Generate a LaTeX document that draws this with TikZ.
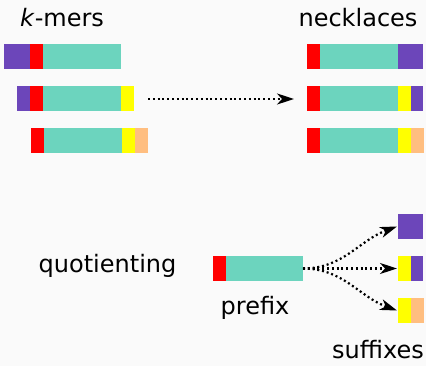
\documentclass[tikz,border=0pt]{standalone}
\usepackage{fontspec}
\setmainfont{DejaVu Sans}
\usetikzlibrary{arrows.meta}
\definecolor{cpurple}{RGB}{108,70,186}
\definecolor{cred}{RGB}{255,0,0}
\definecolor{cteal}{RGB}{108,212,190}
\definecolor{cyellow}{RGB}{255,255,0}
\definecolor{corange}{RGB}{255,190,128}
\definecolor{cbg}{RGB}{250,250,250}
\newcommand{\seg}[5]{\node[segbox, fill=#2, minimum width=#5pt] (#1) at (#3,#4) {};}
\tikzset{
  segbox/.style={rectangle, anchor=north west, inner sep=0pt, outer sep=0pt, minimum height=25pt},
  lbl/.style={font=\fontsize{24}{27}\selectfont, inner sep=0pt, anchor=base},
  dotline/.style={line width=2.2pt, dash pattern=on 2pt off 2.8pt, -{Stealth[length=17pt,width=11pt,inset=5pt]}}
}
\begin{document}
\begin{tikzpicture}[x=1pt,y=-1pt]
\fill[cbg] (0,0) rectangle (426,366);
\useasboundingbox (0,0) rectangle (426,366);
% labels
\node[lbl] (tk) at (62,27) {\textit{k}-mers};
\node[lbl] (tn) at (358,27) {necklaces};
\node[lbl] (tq) at (107.5,273) {quotienting};
\node[lbl] (tp) at (255,315) {prefix};
\node[lbl] (ts) at (378,359) {suffixes};
% k-mers
\seg{k1p}{cpurple}{4}{44}{26}
\seg{k1r}{cred}{30}{44}{13}
\seg{k1t}{cteal}{43}{44}{78}
\seg{k2p}{cpurple}{17}{86}{13}
\seg{k2r}{cred}{30}{86}{13}
\seg{k2t}{cteal}{43}{86}{78}
\seg{k2y}{cyellow}{121}{86}{13}
\seg{k3r}{cred}{31}{128}{13}
\seg{k3t}{cteal}{44}{128}{78}
\seg{k3y}{cyellow}{122}{128}{13}
\seg{k3o}{corange}{135}{128}{13}
% necklaces
\seg{n1r}{cred}{307}{44}{13}
\seg{n1t}{cteal}{320}{44}{78}
\seg{n1p}{cpurple}{398}{44}{25}
\seg{n2r}{cred}{307}{86}{13}
\seg{n2t}{cteal}{320}{86}{78}
\seg{n2y}{cyellow}{398}{86}{13}
\seg{n2p}{cpurple}{411}{86}{12}
\seg{n3r}{cred}{307}{128}{13}
\seg{n3t}{cteal}{320}{128}{78}
\seg{n3y}{cyellow}{398}{128}{13}
\seg{n3o}{corange}{411}{128}{13}
% prefix
\seg{pr}{cred}{213}{256}{13}
\seg{pt}{cteal}{226}{256}{77}
% suffixes
\seg{s1p}{cpurple}{398}{214}{25}
\seg{s2y}{cyellow}{398}{256}{13}
\seg{s2p}{cpurple}{411}{256}{12}
\seg{s3y}{cyellow}{398}{298}{13}
\seg{s3o}{corange}{411}{298}{13}
% arrows
\coordinate (a0) at (148,99);
\coordinate (a1) at (294,99);
\draw[dotline] (a0) -- (a1);
\draw[dotline] (pt.east) to[out=0,in=200] ([xshift=-1pt]s1p.west);
\draw[dotline] (pt.east) -- ([xshift=-1pt]s2y.west);
\draw[dotline] (pt.east) to[out=0,in=160] ([xshift=-1pt]s3y.west);
\end{tikzpicture}
\end{document}
